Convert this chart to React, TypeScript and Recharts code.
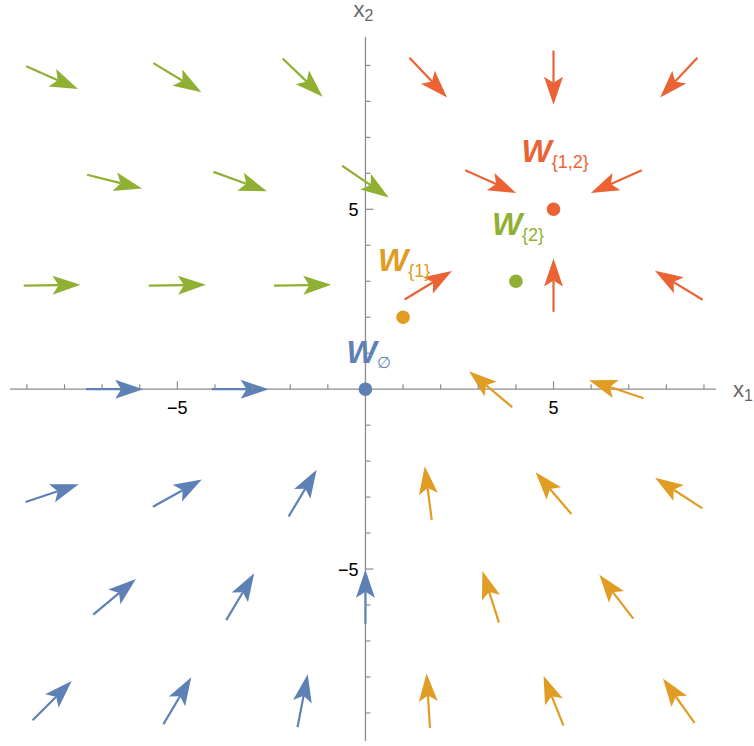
import React from 'react';
import { ScatterChart, Scatter, XAxis, YAxis, ReferenceLine, ReferenceDot } from 'recharts';

const BLUE = '#5e81b5';
const ORANGE = '#e19c24';
const GREEN = '#8fb032';
const RED = '#eb6235';
const AXIS = '#8c8c8c';
const FONT = '"Liberation Sans", Arial, sans-serif';

// vector field samples on a hex grid: [x, y, u, v]
const greenArrows = [
  [-8.33, 8.66, 1.375, -0.628],
  [-5, 8.66, 1.277, -0.806],
  [-1.67, 8.66, 1.064, -1.064],
  [-6.67, 5.77, 1.46, -0.38],
  [-3.33, 5.77, 1.42, -0.54],
  [0, 5.77, 1.24, -0.88],
  [-8.33, 2.89, 1.51, 0.02],
  [-5, 2.89, 1.52, 0.02],
  [-1.67, 2.89, 1.52, 0.02],
];

const redArrows = [
  [1.67, 8.66, 1.0, -1.11],
  [5, 8.66, 0, -1.5],
  [8.33, 8.66, -0.99, -1.11],
  [3.33, 5.77, 1.356, -0.63],
  [6.67, 5.77, -1.356, -0.63],
  [1.67, 2.89, 1.258, 0.797],
  [5, 2.89, 0, 1.48],
  [8.33, 2.89, -1.268, 0.81],
];

const orangeArrows = [
  [3.33, 0, -1.15, 1.0],
  [6.67, 0, -1.45, 0.5],
  [1.67, -2.89, -0.186, 1.5],
  [5, -2.89, -0.95, 1.16],
  [8.33, -2.89, -1.258, 0.85],
  [3.33, -5.77, -0.44, 1.435],
  [6.67, -5.77, -0.904, 1.22],
  [1.67, -8.66, -0.09, 1.51],
  [5, -8.66, -0.53, 1.39],
  [8.33, -8.66, -0.84, 1.23],
];

const blueArrows = [
  [-6.67, 0, 1.52, 0],
  [-3.33, 0, 1.51, 0],
  [-8.33, -2.89, 1.41, 0.49],
  [-5, -2.89, 1.3, 0.76],
  [-1.67, -2.89, 0.745, 1.3],
  [-6.67, -5.77, 1.135, 0.99],
  [-3.33, -5.77, 0.745, 1.3],
  [0, -5.77, 0, 1.5],
  [-8.33, -8.66, 1.04, 1.09],
  [-5, -8.66, 0.74, 1.3],
  [-1.67, -8.66, 0.27, 1.47],
];

// fixed points
const eqNames = ['∅', '{1}', '{2}', '{1,2}'];
const eqX = [0, 1, 4, 5];
const eqY = [0, 2, 3, 5];
const eqColors = [BLUE, ORANGE, GREEN, RED];

const axisTicks = [-9, -8, -7, -6, -5, -4, -3, -2, -1, 1, 2, 3, 4, 5, 6, 7, 8, 9];
const tickLabels = [-5, 5];

const X_DOMAIN: [number, number] = [-9.45, 9.32];
const Y_DOMAIN: [number, number] = [-9.78, 9.79];

const eqData = eqNames.map((name, i) => ({ name, x: eqX[i], y: eqY[i], color: eqColors[i] }));
const xTickData = axisTicks.map((k) => ({ x: k, y: 0 }));
const yTickData = axisTicks.map((k) => ({ x: 0, y: k }));
const xLabelData = tickLabels.map((k) => ({ x: k, y: 0 }));
const yLabelData = tickLabels.map((k) => ({ x: 0, y: k }));

// label placement relative to its dot, in px
const labelPos: Record<string, { dx: number; dy: number; sub: number; subSize: number }> = {
  '∅': { dx: -19, dy: -26, sub: 5, subSize: 16 },
  '{1}': { dx: -25, dy: -46, sub: 6, subSize: 18 },
  '{2}': { dx: -24, dy: -46, sub: 6, subSize: 18 },
  '{1,2}': { dx: -32, dy: -47, sub: 6, subSize: 18 },
};

const fmt = (v: number) => (v < 0 ? `\u2212${Math.abs(v)}` : `${v}`);

function arrowShape(color: string) {
  return (p: any) => {
    const { x1, y1, x2, y2 } = p;
    const dx = x2 - x1;
    const dy = y2 - y1;
    const len = Math.hypot(dx, dy) || 1;
    const ux = dx / len;
    const uy = dy / len;
    const nx = -uy;
    const ny = ux;
    const head = 28;
    const half = 9.5;
    const notch = 22;
    const bx = x2 - ux * head;
    const by = y2 - uy * head;
    const mx = x2 - ux * notch;
    const my = y2 - uy * notch;
    return (
      <g>
        <line x1={x1} y1={y1} x2={mx} y2={my} stroke={color} strokeWidth={2.2} />
        <polygon
          points={`${x2},${y2} ${bx + nx * half},${by + ny * half} ${mx},${my} ${bx - nx * half},${by - ny * half}`}
          fill={color}
        />
      </g>
    );
  };
}

const renderArrows = (list: number[][], color: string, key: string) =>
  list.map(([x, y, u, v], i) => (
    <ReferenceLine
      key={`${key}-${i}`}
      segment={[
        { x: x - u / 2, y: y - v / 2 },
        { x: x + u / 2, y: y + v / 2 },
      ]}
      ifOverflow="visible"
      shape={arrowShape(color)}
    />
  ));

const EqPoint = (p: any) => {
  const { cx, cy, payload } = p;
  const lp = labelPos[payload.name];
  return (
    <g>
      <circle cx={cx} cy={cy} r={6.8} fill={payload.color} />
      <text x={cx + lp.dx} y={cy + lp.dy} fill={payload.color} fontFamily={FONT}>
        <tspan fontSize={32} fontWeight="bold" fontStyle="italic">W</tspan>
        <tspan fontSize={lp.subSize} dy={lp.sub}>{payload.name}</tspan>
      </text>
    </g>
  );
};

const XTick = (p: any) => {
  const { cx, cy, payload } = p;
  const len = Math.abs(payload.x) === 5 ? 8 : 5;
  return <line x1={cx} y1={cy} x2={cx} y2={cy - len} stroke={AXIS} strokeWidth={1.2} />;
};

const YTick = (p: any) => {
  const { cx, cy, payload } = p;
  const len = Math.abs(payload.y) === 5 ? 8 : 5;
  return <line x1={cx} y1={cy} x2={cx + len} y2={cy} stroke={AXIS} strokeWidth={1.2} />;
};

const XLabel = (p: any) => (
  <text x={p.cx} y={p.cy + 25} textAnchor="middle" fontSize={18} fontFamily={FONT} fill="#000">
    {fmt(p.payload.x)}
  </text>
);

const YLabel = (p: any) => (
  <text x={p.cx - 7} y={p.cy + 6.5} textAnchor="end" fontSize={18} fontFamily={FONT} fill="#000">
    {fmt(p.payload.y)}
  </text>
);

const AxisName = (sub: string, dx: number, dy: number) => (p: any) => (
  <text x={p.cx + dx} y={p.cy + dy} fill="#666" fontFamily={FONT}>
    <tspan fontSize={22}>x</tspan>
    <tspan fontSize={16} dy={4}>{sub}</tspan>
  </text>
);

export default function App() {
  return (
    <div style={{ position: 'absolute', left: 0, top: 0, width: 754, height: 746, background: '#fff' }}>
      <ScatterChart width={754} height={746} margin={{ top: 37, right: 38, bottom: 5, left: 10 }}>
        <XAxis type="number" dataKey="x" domain={X_DOMAIN} allowDataOverflow hide />
        <YAxis type="number" dataKey="y" domain={Y_DOMAIN} allowDataOverflow hide />
        <ReferenceLine y={0} stroke={AXIS} strokeWidth={1.3} />
        <ReferenceLine x={0} stroke={AXIS} strokeWidth={1.3} />
        <Scatter data={xTickData} shape={XTick} isAnimationActive={false} />
        <Scatter data={yTickData} shape={YTick} isAnimationActive={false} />
        <Scatter data={xLabelData} shape={XLabel} isAnimationActive={false} />
        <Scatter data={yLabelData} shape={YLabel} isAnimationActive={false} />
        <ReferenceDot x={X_DOMAIN[1]} y={0} ifOverflow="visible" shape={AxisName('1', 17, 8)} />
        <ReferenceDot x={0} y={Y_DOMAIN[1]} ifOverflow="visible" shape={AxisName('2', -12, -20)} />
        {renderArrows(greenArrows, GREEN, 'g')}
        {renderArrows(redArrows, RED, 'r')}
        {renderArrows(orangeArrows, ORANGE, 'o')}
        {renderArrows(blueArrows, BLUE, 'b')}
        <Scatter data={eqData} shape={EqPoint} isAnimationActive={false} />
      </ScatterChart>
    </div>
  );
}
